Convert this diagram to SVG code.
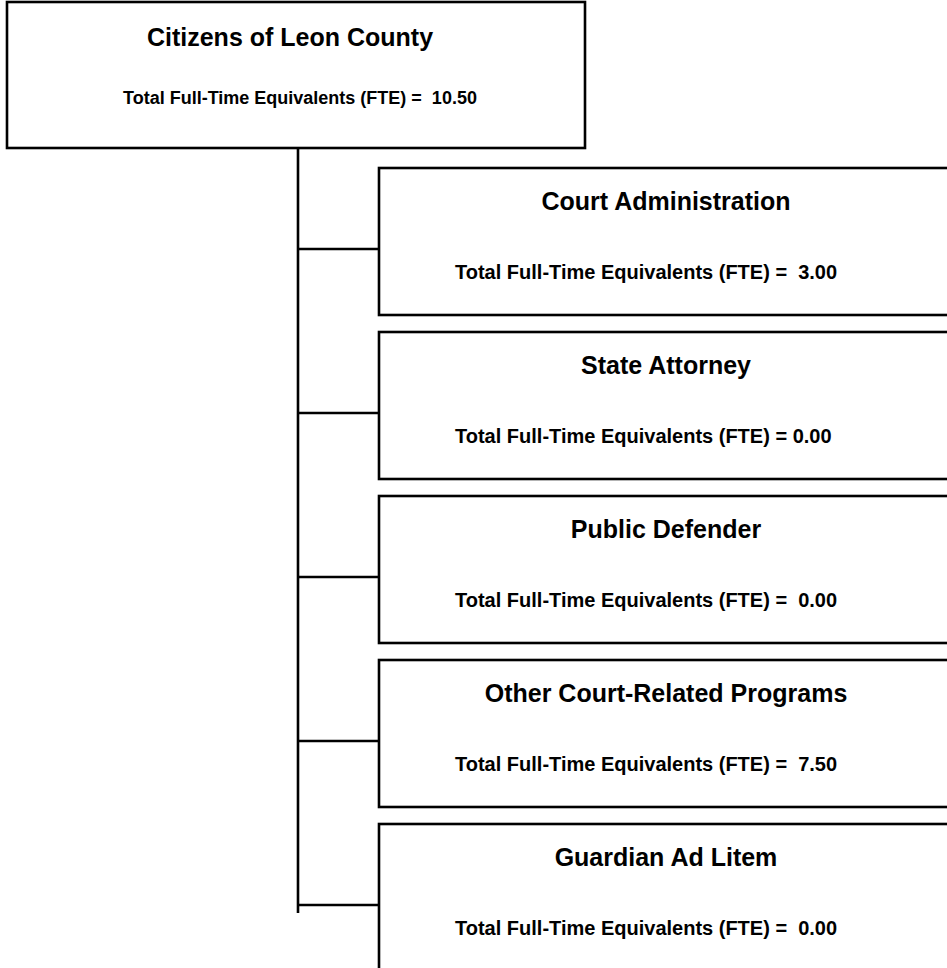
<svg xmlns="http://www.w3.org/2000/svg" width="947" height="968" viewBox="0 0 947 968">
<style>
.box{fill:#fff;stroke:#000;stroke-width:2.6}
.ln{stroke:#000;stroke-width:2.6;fill:none}
.t{font-family:"Liberation Sans",Arial,sans-serif;font-weight:bold;fill:#000;white-space:pre}
.h{font-size:25px;text-anchor:middle}
.s{font-size:20px}
.ts{font-size:18px}
</style>
<rect width="947" height="968" fill="#fff"/>
<g id="connectors">
<line class="ln" x1="298" y1="148" x2="298" y2="913"/>
<line class="ln" x1="298" y1="249" x2="379" y2="249"/>
<line class="ln" x1="298" y1="413" x2="379" y2="413"/>
<line class="ln" x1="298" y1="577" x2="379" y2="577"/>
<line class="ln" x1="298" y1="741" x2="379" y2="741"/>
<line class="ln" x1="298" y1="905" x2="379" y2="905"/>
</g>
<g id="citizens">
<rect class="box" x="7" y="2" width="578" height="146"/>
<text class="t h" x="290" y="46">Citizens of Leon County</text>
<text class="t ts" x="123" y="104">Total Full-Time Equivalents (FTE) =  10.50</text>
</g>
<g id="court-administration">
<rect class="box" x="379" y="168" width="600" height="147"/>
<text class="t h" x="666" y="210">Court Administration</text>
<text class="t s" x="455" y="279">Total Full-Time Equivalents (FTE) =  3.00</text>
</g>
<g id="state-attorney">
<rect class="box" x="379" y="332" width="600" height="147"/>
<text class="t h" x="666" y="374">State Attorney</text>
<text class="t s" x="455" y="443">Total Full-Time Equivalents (FTE) = 0.00</text>
</g>
<g id="public-defender">
<rect class="box" x="379" y="496" width="600" height="147"/>
<text class="t h" x="666" y="538">Public Defender</text>
<text class="t s" x="455" y="607">Total Full-Time Equivalents (FTE) =  0.00</text>
</g>
<g id="other-court-related">
<rect class="box" x="379" y="660" width="600" height="147"/>
<text class="t h" x="666" y="702">Other Court-Related Programs</text>
<text class="t s" x="455" y="771">Total Full-Time Equivalents (FTE) =  7.50</text>
</g>
<g id="guardian-ad-litem">
<rect class="box" x="379" y="824" width="600" height="200"/>
<text class="t h" x="666" y="866">Guardian Ad Litem</text>
<text class="t s" x="455" y="935">Total Full-Time Equivalents (FTE) =  0.00</text>
</g>
</svg>
